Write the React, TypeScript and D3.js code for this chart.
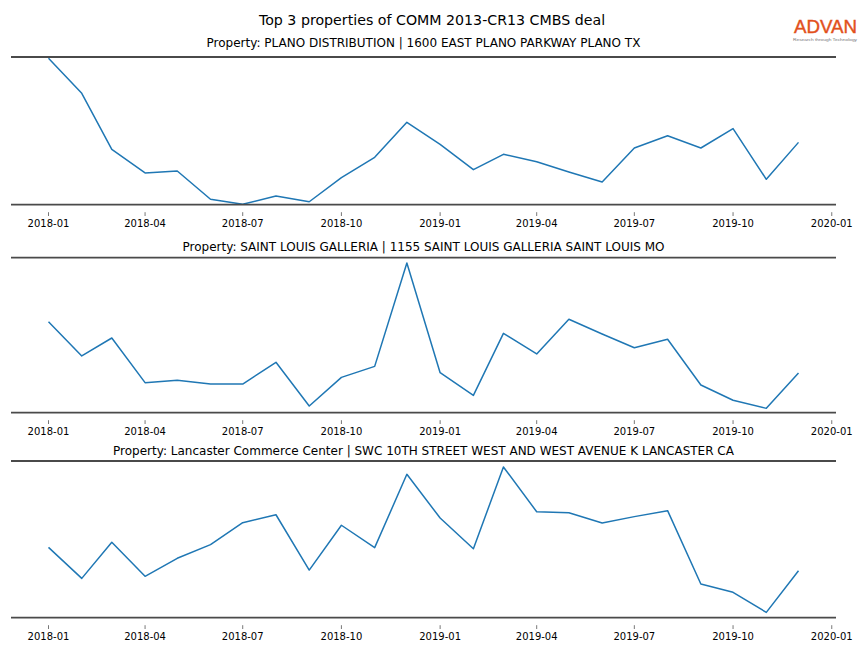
import React from "react";
import * as d3 from "d3";

const MAIN_TITLE = "Top 3 properties of COMM 2013-CR13 CMBS deal";
const PANEL_TITLES = [
  "Property: PLANO DISTRIBUTION | 1600 EAST PLANO PARKWAY PLANO TX",
  "Property: SAINT LOUIS GALLERIA | 1155 SAINT LOUIS GALLERIA SAINT LOUIS MO",
  "Property: Lancaster Commerce Center | SWC 10TH STREET WEST AND WEST AVENUE K LANCASTER CA",
];

const MONTHS = [
  "2018-01", "2018-02", "2018-03", "2018-04", "2018-05", "2018-06",
  "2018-07", "2018-08", "2018-09", "2018-10", "2018-11", "2018-12",
  "2019-01", "2019-02", "2019-03", "2019-04", "2019-05", "2019-06",
  "2019-07", "2019-08", "2019-09", "2019-10", "2019-11", "2019-12",
];

const PLANO = [99.1, 75.4, 37.5, 21.5, 22.8, 3.7, 0.3, 5.9, 2.0, 18.3, 32.1, 55.8,
  40.9, 23.7, 34.1, 29.1, 22.1, 15.4, 38.4, 46.7, 38.4, 51.5, 17.2, 42.2];
const SAINT_LOUIS = [58.7, 36.6, 48.2, 19.4, 20.9, 18.5, 18.5, 32.5, 4.3, 22.8, 29.9, 96.6,
  25.8, 11.2, 51.2, 37.9, 60.3, 50.8, 41.9, 47.4, 17.9, 8.0, 2.8, 25.6];
const LANCASTER = [44.9, 25.1, 48.1, 26.4, 37.9, 46.6, 60.6, 65.7, 30.4, 59.0, 44.7, 91.5,
  63.6, 44.0, 96.2, 67.6, 67.0, 60.4, 64.5, 68.3, 21.5, 16.2, 3.4, 30.0];

const SERIES = [PLANO, SAINT_LOUIS, LANCASTER];
const Y_DOMAIN: [number, number] = [0, 100];

const W = 864;
const H = 648;
const X0 = 11;
const X1 = 836;
const PANELS = [
  { top: 57, bottom: 204.7, titleY: 46.5 },
  { top: 257.7, bottom: 412.7, titleY: 250.5 },
  { top: 461, bottom: 617.7, titleY: 454.5 },
];

const FONT = "DejaVu Sans, sans-serif";

function parseMonth(s: string) {
  const [y, m] = s.split("-").map(Number);
  return new Date(Date.UTC(y, m - 1, 1));
}

export default function App() {
  const dates = MONTHS.map(parseMonth);
  const dMin = dates[0].getTime();
  const dMax = dates[dates.length - 1].getTime();
  const pad = (dMax - dMin) * 0.05;
  const x = d3.scaleUtc().domain([new Date(dMin - pad), new Date(dMax + pad)]).range([X0, X1]);
  const ticks = x.ticks(d3.utcMonth.every(3)!);
  const fmt = d3.utcFormat("%Y-%m");

  return (
    <svg width={W} height={H} style={{ position: "fixed", left: 0, top: 0, background: "#fff" }}>
      <rect width={W} height={H} fill="#fff" />
      <text x={432} y={25} textAnchor="middle" fontFamily={FONT} fontSize={14.2} fill="#000">
        {MAIN_TITLE}
      </text>
      <g>
        <text x={794} y={33} fontFamily="Liberation Sans, Arial, sans-serif" fontSize={18}
          fill="#e2501c" stroke="#e2501c" strokeWidth={0.4} textLength={63} lengthAdjust="spacingAndGlyphs">ADVAN</text>
        <text x={793} y={41} fontFamily="Liberation Sans, Arial, sans-serif" fontSize={4.4}
          fill="#777" textLength={64} lengthAdjust="spacingAndGlyphs">Research through Technology</text>
      </g>
      {PANELS.map((p, i) => {
        const y = d3.scaleLinear().domain(Y_DOMAIN).range([p.bottom, p.top]);
        const line = d3.line<number>()
          .x((_, j) => x(dates[j]))
          .y((v) => y(v));
        return (
          <g key={i}>
            <text x={(X0 + X1) / 2} y={p.titleY} textAnchor="middle" fontFamily={FONT} fontSize={12} fill="#000">
              {PANEL_TITLES[i]}
            </text>
            <path d={line(SERIES[i]) || ""} fill="none" stroke="#1f77b4" strokeWidth={1.5} strokeLinejoin="round" />
            <line x1={X0} x2={X1} y1={p.top} y2={p.top} stroke="#4a4a4a" strokeWidth={1.8} />
            <line x1={X0} x2={X1} y1={p.bottom} y2={p.bottom} stroke="#4a4a4a" strokeWidth={1.8} />
            {ticks.map((t, k) => (
              <g key={k} transform={`translate(${x(t)},0)`}>
                <line y1={p.bottom + 7.5} y2={p.bottom + 11.3} stroke="#555" strokeWidth={0.8} />
                <text y={p.bottom + 22} textAnchor="middle" fontFamily={FONT} fontSize={10} fill="#000">
                  {fmt(t)}
                </text>
              </g>
            ))}
          </g>
        );
      })}
    </svg>
  );
}
